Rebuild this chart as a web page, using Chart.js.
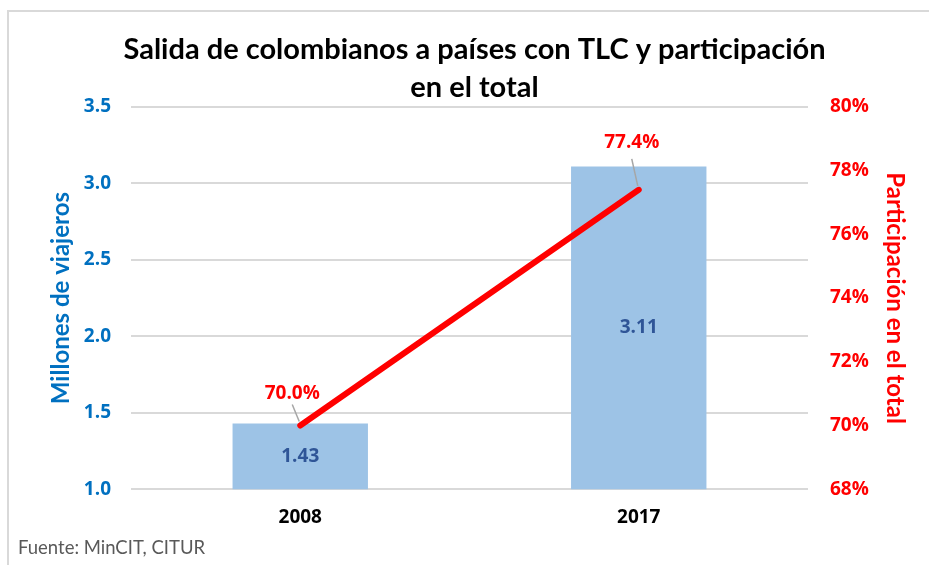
<!DOCTYPE html>
<html>
<head>
<meta charset="utf-8">
<script src="https://cdn.jsdelivr.net/npm/chart.js@4"></script>
<style>
  html, body { margin: 0; padding: 0; background: #fff; }
  #wrap { position: relative; width: 929px; height: 565px; overflow: hidden; }
  #frame { position: absolute; left: 7px; top: 10px; width: 940px; height: 580px; border: 2px solid #d9d9d9; box-sizing: border-box; }
  #chart { position: absolute; left: 0; top: 0; }
  #source { position: absolute; left: 18px; top: 536px; font: 18.5px Lato, sans-serif; color: #595959; }
</style>
</head>
<body>
<div id="wrap">
  <div id="frame"></div>
  <canvas id="chart" width="929" height="565"></canvas>
  <div id="source">Fuente: MinCIT, CITUR</div>
</div>
<script>
// values
const years = ["2008", "2017"];
const travelers = [1.43, 3.11];       // millones de viajeros
const share = [70.0, 77.4];           // % participación en el total
const travelerTicks = [1.0, 1.5, 2.0, 2.5, 3.0, 3.5];
const shareTicks = [68, 70, 72, 74, 76, 78, 80];

const FONT = "Lato, 'Open Sans', sans-serif";
const TICK_FONT = "'Open Sans', Lato, sans-serif";
const BLUE = "#0070C0";
const RED = "#FF0000";

// where the line labels sit relative to their point, and their leader lines
const lineLabelOffsets = [
  { dx: -8, dy: -32, from: [-8, -21], to: [-1, -4] },
  { dx: -7, dy: -47, from: [-7, -31], to: [-1, -4] },
];

const valueLabels = {
  id: "valueLabels",
  afterDatasetsDraw(chart) {
    const ctx = chart.ctx;
    const bottom = chart.chartArea.bottom;
    ctx.save();
    ctx.textAlign = "center";
    ctx.textBaseline = "middle";

    // bar values, centred in the visible part of the bar
    const barMeta = chart.getDatasetMeta(0);
    ctx.fillStyle = "#2F5597";
    ctx.font = "bold 19px " + TICK_FONT;
    barMeta.data.forEach((bar, i) => {
      const base = Math.min(bar.base, bottom);
      ctx.fillText(travelers[i].toFixed(2), bar.x, (bar.y + base) / 2);
    });

    // line values with a small leader line
    const lineMeta = chart.getDatasetMeta(1);
    lineMeta.data.forEach((pt, i) => {
      const o = lineLabelOffsets[i];
      ctx.strokeStyle = "#a6a6a6";
      ctx.lineWidth = 1.5;
      ctx.beginPath();
      ctx.moveTo(pt.x + o.from[0], pt.y + o.from[1]);
      ctx.lineTo(pt.x + o.to[0], pt.y + o.to[1]);
      ctx.stroke();
      ctx.fillStyle = RED;
      ctx.font = "bold 19px " + TICK_FONT;
      ctx.fillText(share[i].toFixed(1) + "%", pt.x + o.dx, pt.y + o.dy);
    });
    ctx.restore();
  }
};

new Chart(document.getElementById("chart"), {
  data: {
    labels: years,
    datasets: [
      {
        type: "bar",
        data: travelers,
        backgroundColor: "#9DC3E6",
        barPercentage: 0.4,
        categoryPercentage: 1,
        yAxisID: "y",
        order: 1,
      },
      {
        type: "line",
        data: share,
        borderColor: RED,
        borderWidth: 6,
        borderCapStyle: "round",
        pointRadius: 2,
        pointBorderWidth: 0,
        pointBackgroundColor: RED,
        yAxisID: "y2",
        order: 0,
      },
    ],
  },
  options: {
    responsive: false,
    animation: false,
    layout: { padding: { left: 40, right: 20, top: 15, bottom: 27 } },
    plugins: {
      legend: { display: false },
      tooltip: { enabled: false },
      title: {
        display: true,
        text: ["Salida de colombianos a países con TLC y participación", "en el total"],
        color: "#000",
        font: { family: FONT, size: 29, weight: "bold", lineHeight: 1.31 },
        padding: { top: 16, bottom: 0 },
      },
    },
    scales: {
      x: {
        grid: { display: false },
        border: { display: false },
        ticks: { color: "#000", font: { family: TICK_FONT, size: 19, weight: "bold" }, padding: 9 },
      },
      y: {
        position: "left",
        min: 1.0,
        max: 3.5,
        afterBuildTicks: s => { s.ticks = travelerTicks.map(v => ({ value: v })); },
        grid: { color: "#d9d9d9", lineWidth: 2, drawTicks: false },
        border: { display: false },
        ticks: {
          color: BLUE,
          font: { family: TICK_FONT, size: 19, weight: "bold" },
          padding: 20,
          callback: v => Number(v).toFixed(1),
        },
        title: {
          display: true,
          text: "Millones de viajeros",
          color: BLUE,
          font: { family: FONT, size: 24, weight: "bold" },
          padding: { top: 7, bottom: 0 },
        },
        afterFit: s => { s.width = 91; },
      },
      y2: {
        position: "right",
        min: 68,
        max: 80,
        afterBuildTicks: s => { s.ticks = shareTicks.map(v => ({ value: v })); },
        grid: { display: false, drawTicks: false },
        border: { display: false },
        ticks: {
          color: RED,
          font: { family: TICK_FONT, size: 19, weight: "bold" },
          padding: 22,
          callback: v => v + "%",
        },
        title: {
          display: true,
          text: "Participación en el total",
          color: RED,
          font: { family: FONT, size: 24, weight: "bold" },
          padding: { top: 0, bottom: 0 },
        },
        afterFit: s => { s.width = 101; },
      },
    },
  },
  plugins: [valueLabels],
});
</script>
</body>
</html>
